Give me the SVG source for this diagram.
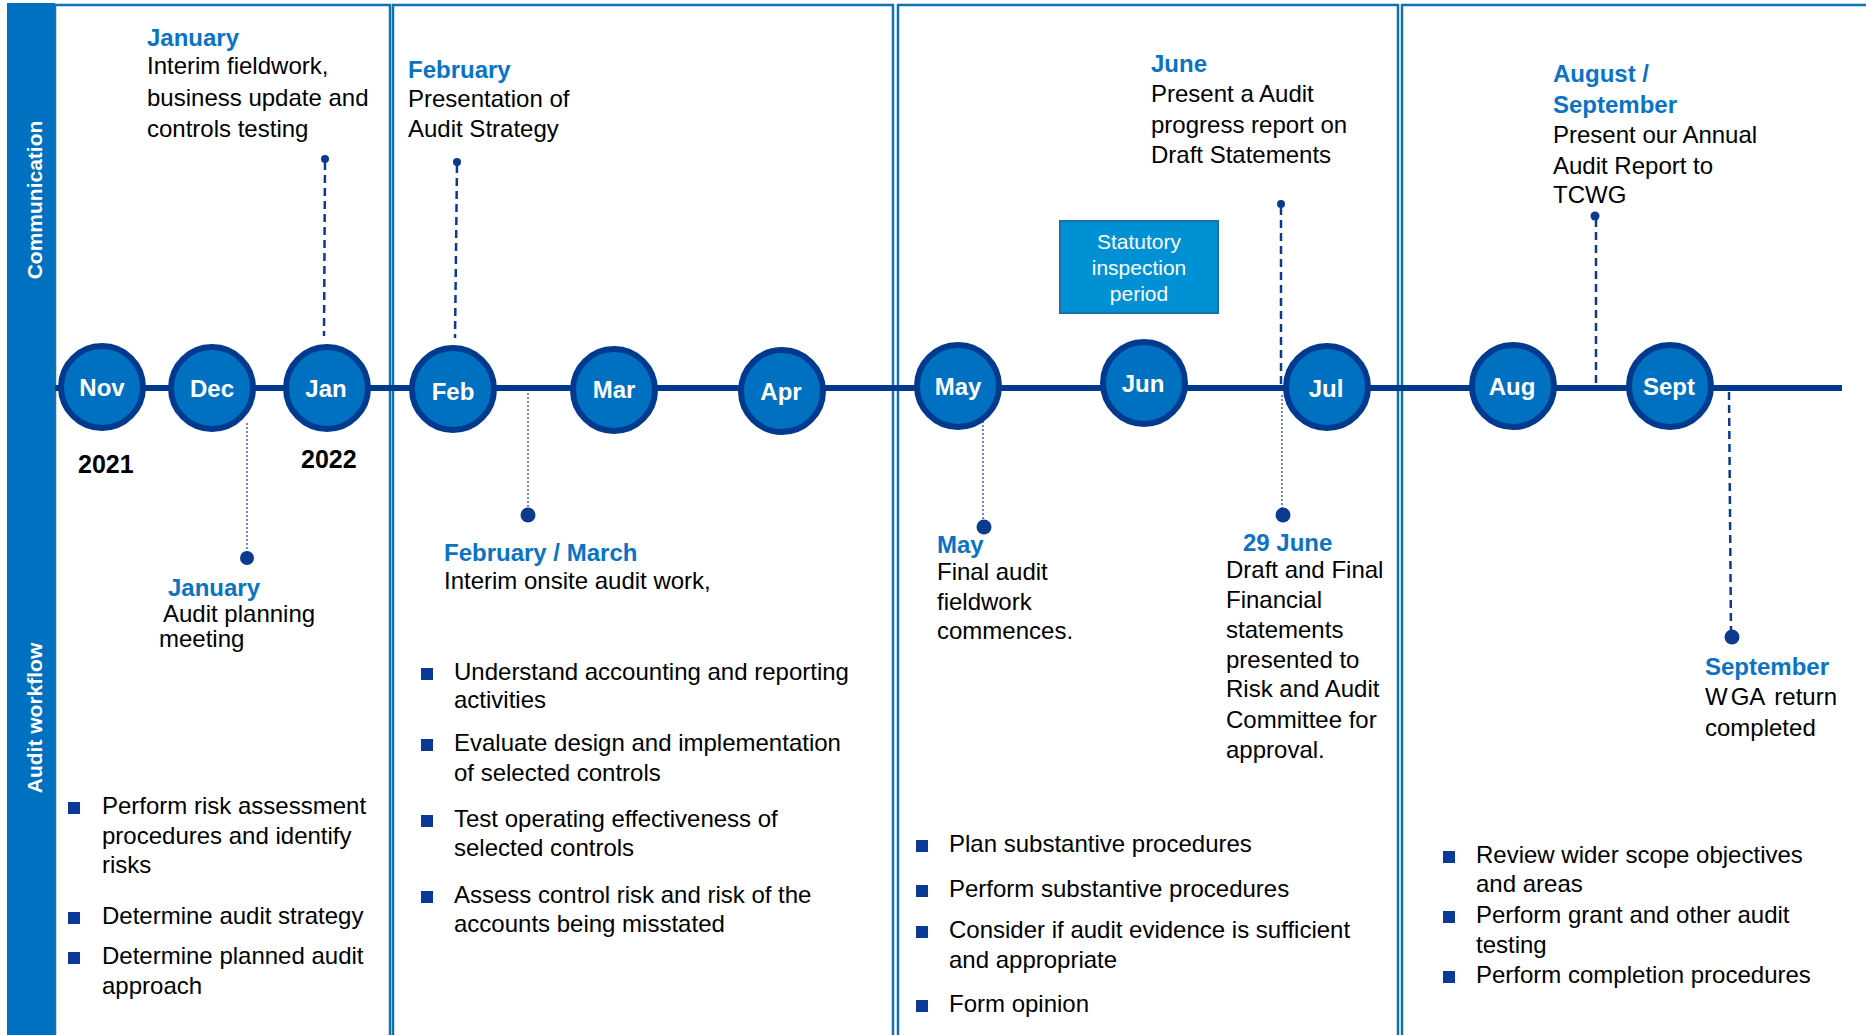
<svg xmlns="http://www.w3.org/2000/svg" width="1866" height="1035" viewBox="0 0 1866 1035">
<style>
text{font-family:"Liberation Sans",Arial,sans-serif;}
.h{font-size:24px;font-weight:bold;fill:#0a73c4;}
.b{font-size:24px;fill:#000;}
.m{font-size:24px;font-weight:bold;fill:#fff;text-anchor:middle;}
.yr{font-size:25px;font-weight:bold;fill:#000;}
.side{font-size:21px;font-weight:bold;fill:#fff;text-anchor:middle;}
.panel{fill:none;stroke:#1172b0;stroke-width:2.5;}
.mc{fill:#0070c0;stroke:#003a8f;stroke-width:6;}
.dash{stroke:#0b3a8f;stroke-width:2.5;stroke-dasharray:8 5;fill:none;}
.dot{stroke:#2a4fa0;stroke-width:1.3;stroke-dasharray:2 2;fill:none;}
.pt{fill:#0b3a8f;}
.sq{fill:#0b3a96;}
.sbox{fill:#0091d5;stroke:#1a6fa8;stroke-width:2;}
.st{font-size:21px;fill:#fff;text-anchor:middle;}
</style>
<rect width="1866" height="1035" fill="#fff"/>
<g id="side-bar">
<rect x="7" y="3" width="48" height="1032" fill="#0070c0"/>
<line x1="54" y1="3" x2="54" y2="1035" stroke="#1a6fa8" stroke-width="2"/>
<text class="side" transform="translate(42,200) rotate(-90)">Communication</text>
<text class="side" transform="translate(42,718) rotate(-90)">Audit workflow</text>
</g>
<g id="panels">
<rect class="panel" x="55" y="5" width="335" height="1040"/>
<rect class="panel" x="393" y="5" width="500" height="1040"/>
<rect class="panel" x="898" y="5" width="500" height="1040"/>
<rect class="panel" x="1402" y="5" width="480" height="1040"/>
</g>
<g id="connectors">
<line x1="55" y1="388" x2="1842" y2="388" stroke="#003a8f" stroke-width="6"/>
<line class="dash" x1="325" y1="162" x2="324" y2="336"/>
<circle class="pt" cx="325" cy="159" r="4"/>
<line class="dot" x1="247" y1="423" x2="247" y2="555"/>
<circle class="pt" cx="247" cy="558" r="7"/>
<line class="dash" x1="457" y1="165" x2="455" y2="338"/>
<circle class="pt" cx="457" cy="162" r="4"/>
<line class="dot" x1="528" y1="393" x2="528" y2="512"/>
<circle class="pt" cx="528" cy="515" r="7.5"/>
<line class="dot" x1="983" y1="405" x2="983" y2="524"/>
<circle class="pt" cx="984" cy="527" r="7.5"/>
<line class="dash" x1="1281" y1="207" x2="1281" y2="386"/>
<circle class="pt" cx="1281" cy="204" r="4"/>
<line class="dot" x1="1282" y1="395" x2="1282" y2="512"/>
<circle class="pt" cx="1283" cy="515" r="7.5"/>
<line class="dash" x1="1596" y1="219" x2="1596" y2="386"/>
<circle class="pt" cx="1595" cy="216" r="4.5"/>
<line class="dash" x1="1729" y1="392" x2="1731" y2="634"/>
<circle class="pt" cx="1732" cy="637" r="7.5"/>
</g>
<g id="m-nov"><circle class="mc" cx="102" cy="387" r="41"/><text class="m" x="102" y="396">Nov</text></g>
<g id="m-dec"><circle class="mc" cx="212" cy="388" r="41"/><text class="m" x="212" y="397">Dec</text></g>
<g id="m-jan"><circle class="mc" cx="327" cy="388" r="41"/><text class="m" x="326" y="397">Jan</text></g>
<g id="m-feb"><circle class="mc" cx="453" cy="389" r="41"/><text class="m" x="453" y="400">Feb</text></g>
<g id="m-mar"><circle class="mc" cx="614" cy="390" r="41"/><text class="m" x="614" y="398">Mar</text></g>
<g id="m-apr"><circle class="mc" cx="782" cy="391" r="41"/><text class="m" x="781" y="400">Apr</text></g>
<g id="m-may"><circle class="mc" cx="958" cy="386" r="41"/><text class="m" x="958" y="395">May</text></g>
<g id="m-jun"><circle class="mc" cx="1144" cy="383" r="41"/><text class="m" x="1143" y="392">Jun</text></g>
<g id="m-jul"><circle class="mc" cx="1327" cy="387" r="41"/><text class="m" x="1326" y="397">Jul</text></g>
<g id="m-aug"><circle class="mc" cx="1513" cy="386" r="41"/><text class="m" x="1512" y="395">Aug</text></g>
<g id="m-sept"><circle class="mc" cx="1670" cy="386" r="41"/><text class="m" x="1669" y="395">Sept</text></g>
<g id="years">
<text class="yr" x="78" y="473">2021</text>
<text class="yr" x="301" y="468">2022</text>
</g>
<g id="statutory">
<rect class="sbox" x="1060" y="221" width="158" height="92"/>
<text class="st" x="1139" y="249">Statutory</text>
<text class="st" x="1139" y="275">inspection</text>
<text class="st" x="1139" y="301">period</text>
</g>
<g id="c-january">
<text class="h" x="147" y="46">January</text>
<text class="b" x="147" y="74">Interim fieldwork,</text>
<text class="b" x="147" y="106">business update and</text>
<text class="b" x="147" y="137">controls testing</text>
</g>
<g id="c-february">
<text class="h" x="408" y="78">February</text>
<text class="b" x="408" y="107">Presentation of</text>
<text class="b" x="408" y="137">Audit Strategy</text>
</g>
<g id="c-june">
<text class="h" x="1151" y="72">June</text>
<text class="b" x="1151" y="102">Present a Audit</text>
<text class="b" x="1151" y="133">progress report on</text>
<text class="b" x="1151" y="163">Draft Statements</text>
</g>
<g id="c-augsep">
<text class="h" x="1553" y="82">August /</text>
<text class="h" x="1553" y="113">September</text>
<text class="b" x="1553" y="143">Present our Annual</text>
<text class="b" x="1553" y="174">Audit Report to</text>
<text class="b" x="1553" y="203">TCWG</text>
</g>
<g id="w-january">
<text class="h" x="168" y="596">January</text>
<text class="b" x="163" y="622">Audit planning</text>
<text class="b" x="159" y="647">meeting</text>
</g>
<g id="w-febmar">
<text class="h" x="444" y="561">February / March</text>
<text class="b" x="444" y="589">Interim onsite audit work,</text>
</g>
<g id="w-may">
<text class="h" x="937" y="553">May</text>
<text class="b" x="937" y="580">Final audit</text>
<text class="b" x="937" y="610">fieldwork</text>
<text class="b" x="937" y="639">commences.</text>
</g>
<g id="w-29june">
<text class="h" x="1243" y="551">29 June</text>
<text class="b" x="1226" y="578">Draft and Final</text>
<text class="b" x="1226" y="608">Financial</text>
<text class="b" x="1226" y="638">statements</text>
<text class="b" x="1226" y="668">presented to</text>
<text class="b" x="1226" y="697">Risk and Audit</text>
<text class="b" x="1226" y="728">Committee for</text>
<text class="b" x="1226" y="758">approval.</text>
</g>
<g id="w-september">
<text class="h" x="1705" y="675">September</text>
<text class="b" x="1705" y="705">W<tspan dx="3">GA</tspan><tspan dx="9">return</tspan></text>
<text class="b" x="1705" y="736">completed</text>
</g>
<g id="bullets-1">
<rect class="sq" x="68" y="802" width="12" height="12"/>
<text class="b" x="102" y="814">Perform risk assessment</text>
<text class="b" x="102" y="844">procedures and identify</text>
<text class="b" x="102" y="873">risks</text>
<rect class="sq" x="68" y="912" width="12" height="12"/>
<text class="b" x="102" y="924">Determine audit strategy</text>
<rect class="sq" x="68" y="952" width="12" height="12"/>
<text class="b" x="102" y="964">Determine planned audit</text>
<text class="b" x="102" y="994">approach</text>
</g>
<g id="bullets-2">
<rect class="sq" x="421" y="668" width="12" height="12"/>
<text class="b" x="454" y="680">Understand accounting and reporting</text>
<text class="b" x="454" y="708">activities</text>
<rect class="sq" x="421" y="739" width="12" height="12"/>
<text class="b" x="454" y="751">Evaluate design and implementation</text>
<text class="b" x="454" y="781">of selected controls</text>
<rect class="sq" x="421" y="815" width="12" height="12"/>
<text class="b" x="454" y="827">Test operating effectiveness of</text>
<text class="b" x="454" y="856">selected controls</text>
<rect class="sq" x="421" y="891" width="12" height="12"/>
<text class="b" x="454" y="903">Assess control risk and risk of the</text>
<text class="b" x="454" y="932">accounts being misstated</text>
</g>
<g id="bullets-3">
<rect class="sq" x="916" y="840" width="12" height="12"/>
<text class="b" x="949" y="852">Plan substantive procedures</text>
<rect class="sq" x="916" y="885" width="12" height="12"/>
<text class="b" x="949" y="897">Perform substantive procedures</text>
<rect class="sq" x="916" y="926" width="12" height="12"/>
<text class="b" x="949" y="938">Consider if audit evidence is sufficient</text>
<text class="b" x="949" y="968">and appropriate</text>
<rect class="sq" x="916" y="1000" width="12" height="12"/>
<text class="b" x="949" y="1012">Form opinion</text>
</g>
<g id="bullets-4">
<rect class="sq" x="1443" y="851" width="12" height="12"/>
<text class="b" x="1476" y="863">Review wider scope objectives</text>
<text class="b" x="1476" y="892">and areas</text>
<rect class="sq" x="1443" y="911" width="12" height="12"/>
<text class="b" x="1476" y="923">Perform grant and other audit</text>
<text class="b" x="1476" y="953">testing</text>
<rect class="sq" x="1443" y="971" width="12" height="12"/>
<text class="b" x="1476" y="983">Perform completion procedures</text>
</g>
</svg>
